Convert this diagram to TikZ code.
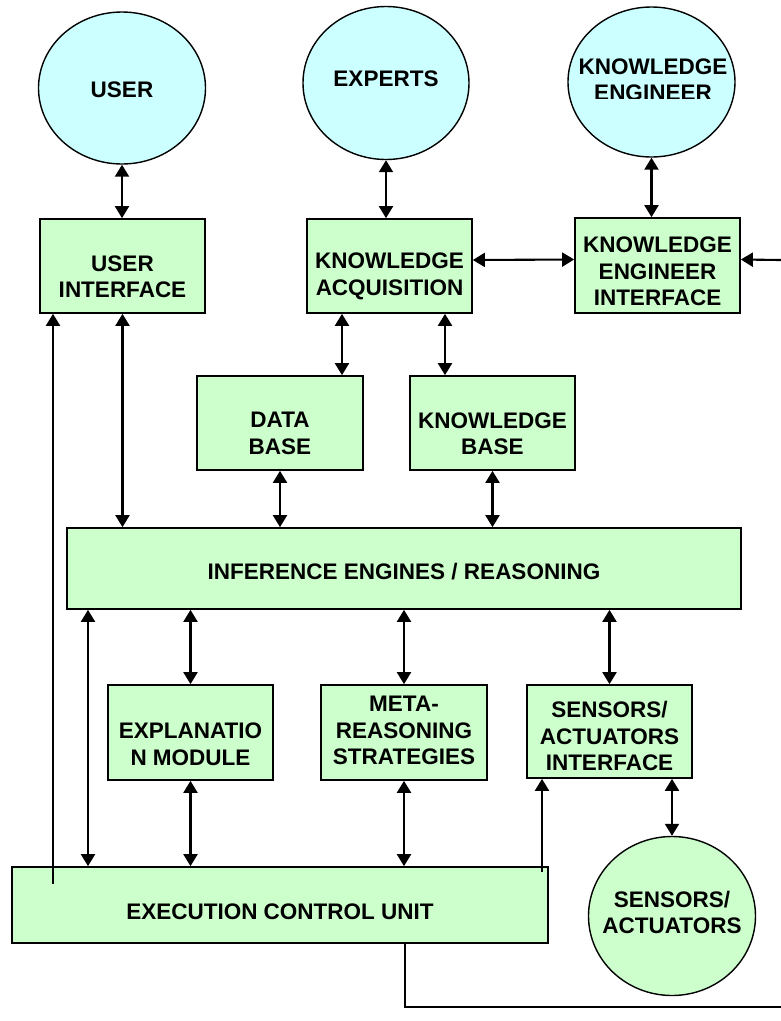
\documentclass[tikz,border=0pt]{standalone}
\usepackage{fontspec}
\newfontfamily\lab{Liberation Sans}
\usetikzlibrary{arrows.meta,shapes.geometric}
\definecolor{boxgreen}{HTML}{CCFFCC}
\definecolor{circcyan}{HTML}{CCFFFF}
\begin{document}
\begin{tikzpicture}[x=1pt,y=-1pt,
  box/.style={draw=black,line width=1.7pt,fill=boxgreen,rectangle,inner sep=0pt,minimum width=165pt,minimum height=94pt},
  circ/.style={draw=black,line width=1.4pt,ellipse,inner sep=0pt,minimum width=167pt,minimum height=152pt},
  txt/.style={align=center,inner sep=0pt,font={\lab\bfseries\fontsize{22.5}{26.5}\selectfont}},
  conn/.style={line width=2.1pt},
  dbl/.style={conn,{Triangle[length=12pt,width=14pt]}-{Triangle[length=12pt,width=14pt]}},
  one/.style={conn,-{Triangle[length=12pt,width=14pt]}}
]
\useasboundingbox (0,0) rectangle (781,1021);

% circles
\node[circ,fill=circcyan] (user) at (122,88) {};
\node[circ,fill=circcyan,minimum width=166pt,minimum height=153pt] (experts) at (386,83) {};
\node[circ,fill=circcyan,minimum height=150pt] (keng) at (651.5,82) {};
\node[circ,fill=boxgreen,minimum height=159pt] (sa) at (672,916) {};

% boxes
\node[box] (ui) at (122.5,266) {};
\node[box] (ka) at (389.5,266) {};
\node[box,minimum height=95pt] (kei) at (657.5,265.5) {};
\node[box,minimum width=166pt] (db) at (280,423) {};
\node[box] (kb) at (492.5,423) {};
\node[box,minimum width=674pt,minimum height=81pt] (inf) at (404,568.5) {};
\node[box,minimum height=95pt] (exm) at (190.5,732.5) {};
\node[box,minimum width=166pt,minimum height=95pt] (meta) at (404,732.5) {};
\node[box,minimum height=93pt] (sai) at (609.5,731.5) {};
\node[box,minimum width=536pt,minimum height=76pt] (ecu) at (280,905) {};

% texts
\node[txt] (user-t) at (122,90) {USER};
\node[txt] (experts-t) at (386,79) {EXPERTS};
\begin{scope}
\clip (555,0) rectangle (750,98);
\node[txt] (keng-t) at (653,79.5) {KNOWLEDGE\\ENGINEER};
\end{scope}
\node[txt] (sa-t) at (672,912.5) {SENSORS/\\ACTUATORS};
\node[txt] (ui-t) at (122.5,276.5) {USER\\INTERFACE};
\node[txt] (ka-t) at (389.5,276.5) {KNOWLEDGE\\ACQUISITION};
\node[txt] (kei-t) at (657.5,271.5) {KNOWLEDGE\\ENGINEER\\INTERFACE};
\node[txt] (db-t) at (280,433.5) {DATA\\BASE};
\node[txt] (kb-t) at (492.5,433.5) {KNOWLEDGE\\BASE};
\node[txt] (inf-t) at (404,572) {INFERENCE ENGINES / REASONING};
\node[txt] (exm-t) at (190.5,744) {EXPLANATIO\\N MODULE};
\node[txt] (meta-t) at (404,730.5) {META-\\REASONING\\STRATEGIES};
\node[txt] (sai-t) at (609.5,736) {SENSORS/\\ACTUATORS\\INTERFACE};
\node[txt] (ecu-t) at (280,912) {EXECUTION CONTROL UNIT};

% helper coordinates
\coordinate (xkadb) at (342,0);
\coordinate (xkakb) at (445,0);
\coordinate (x88) at (88,0);
\coordinate (ecuL) at (53,884);
\coordinate (ecuR) at (542,872);
\coordinate (x405) at (405,0);
\coordinate (corner) at (405,1007);
\coordinate (rightbot) at (781,1007);
\coordinate (rightin) at (781,260);

% connectors
\draw[dbl] (user.south) -- (user.south |- ui.north);
\draw[dbl] (experts.south) -- (experts.south |- ka.north);
\draw[dbl] (keng.south) -- (keng.south |- kei.north);
\draw[dbl] ([yshift=6pt]ka.east) -- ([yshift=6pt]kei.west);
\draw[one] (rightin) -- ([yshift=6pt]kei.east);
\draw[dbl] (ui.south) -- (ui.south |- inf.north);
\draw[one] (ecuL) -- (ecuL |- ui.south);
\draw[dbl] (xkadb |- ka.south) -- (xkadb |- db.north);
\draw[dbl] (xkakb |- ka.south) -- (xkakb |- kb.north);
\draw[dbl] (db.south) -- (db.south |- inf.north);
\draw[dbl] (kb.south) -- (kb.south |- inf.north);
\draw[dbl] (inf.south -| exm.north) -- (exm.north);
\draw[dbl] (inf.south -| meta.north) -- (meta.north);
\draw[dbl] (inf.south -| sai.north) -- (sai.north);
\draw[dbl] (x88 |- inf.south) -- (x88 |- ecu.north);
\draw[dbl] (exm.south) -- (exm.south |- ecu.north);
\draw[dbl] (meta.south) -- (meta.south |- ecu.north);
\draw[dbl] (sai.south -| sa.north) -- (sa.north);
\draw[one] (ecuR) -- (ecuR |- sai.south);
\draw[conn] (x405 |- ecu.south) -- (corner) -- (rightbot);
\end{tikzpicture}
\end{document}
